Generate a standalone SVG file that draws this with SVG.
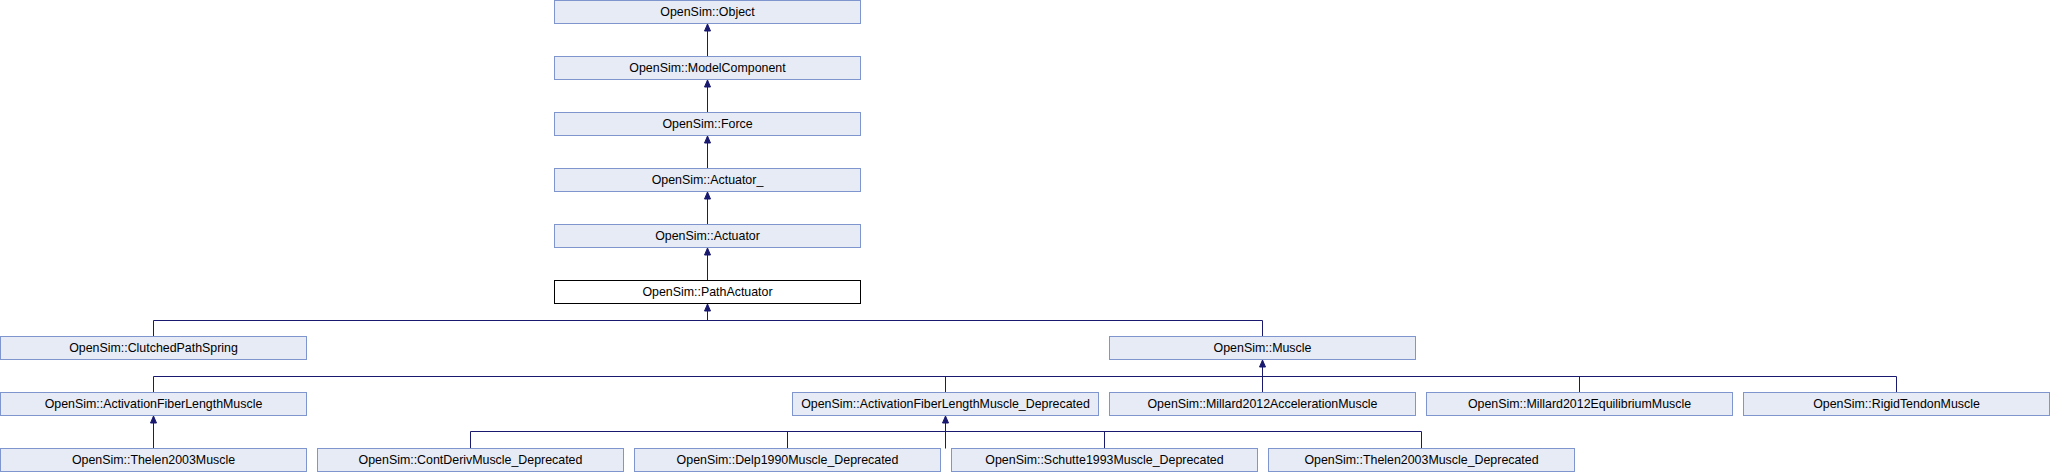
<svg xmlns="http://www.w3.org/2000/svg" width="2050" height="472" viewBox="0 0 2050 472">
<style>
.n rect{fill:#E7EBF5;stroke:#7F95CD;stroke-width:1}
.cur rect{fill:#FFFFFF;stroke:#000000;stroke-width:1}
text{font-family:"Liberation Sans",Arial,sans-serif;font-size:12.4px;fill:#000;text-anchor:middle}
#edges path{fill:none;stroke:#191970;stroke-width:1}
#edges polygon{fill:#191970;stroke:#191970;stroke-width:1}
</style>
<rect width="2050" height="472" fill="#FFFFFF"/>
<g id="edges">
<path d="M707.5,56.5V30"/><polygon points="707.5,24 704.5,31 710.5,31"/>
<path d="M707.5,112.5V86"/><polygon points="707.5,80 704.5,87 710.5,87"/>
<path d="M707.5,168.5V142"/><polygon points="707.5,136 704.5,143 710.5,143"/>
<path d="M707.5,224.5V198"/><polygon points="707.5,192 704.5,199 710.5,199"/>
<path d="M707.5,280.5V254"/><polygon points="707.5,248 704.5,255 710.5,255"/>
<path d="M153.5,336.5V320.5H1262.5V336.5"/>
<path d="M707.5,320.5V310"/><polygon points="707.5,304 704.5,311 710.5,311"/>
<path d="M153.5,392.5V376.5H1896.5V392.5"/>
<path d="M945.5,376.5V392.5"/>
<path d="M1579.5,376.5V392.5"/>
<path d="M1262.5,392.5V366"/><polygon points="1262.5,360 1259.5,367 1265.5,367"/>
<path d="M470.5,448.5V431.5H1421.5V448.5"/>
<path d="M787.5,431.5V448.5"/>
<path d="M1104.5,431.5V448.5"/>
<path d="M945.5,448.5V422"/><polygon points="945.5,416 942.5,423 948.5,423"/>
<path d="M153.5,448.5V422"/><polygon points="153.5,416 150.5,423 156.5,423"/>
</g>
<g id="obj" class="n"><rect x="554.5" y="0.5" width="306" height="23"/><text x="707.5" y="15.7">OpenSim::Object</text></g>
<g id="modelcomponent" class="n"><rect x="554.5" y="56.5" width="306" height="23"/><text x="707.5" y="71.7">OpenSim::ModelComponent</text></g>
<g id="force" class="n"><rect x="554.5" y="112.5" width="306" height="23"/><text x="707.5" y="127.7">OpenSim::Force</text></g>
<g id="actuator_" class="n"><rect x="554.5" y="168.5" width="306" height="23"/><text x="707.5" y="183.7">OpenSim::Actuator_</text></g>
<g id="actuator" class="n"><rect x="554.5" y="224.5" width="306" height="23"/><text x="707.5" y="239.7">OpenSim::Actuator</text></g>
<g id="pathactuator" class="cur"><rect x="554.5" y="280.5" width="306" height="23"/><text x="707.5" y="295.7">OpenSim::PathActuator</text></g>
<g id="clutchedpathspring" class="n"><rect x="0.5" y="336.5" width="306" height="23"/><text x="153.5" y="351.7">OpenSim::ClutchedPathSpring</text></g>
<g id="muscle" class="n"><rect x="1109.5" y="336.5" width="306" height="23"/><text x="1262.5" y="351.7">OpenSim::Muscle</text></g>
<g id="aflm" class="n"><rect x="0.5" y="392.5" width="306" height="23"/><text x="153.5" y="407.7">OpenSim::ActivationFiberLengthMuscle</text></g>
<g id="aflmd" class="n"><rect x="792.5" y="392.5" width="306" height="23"/><text x="945.5" y="407.7">OpenSim::ActivationFiberLengthMuscle_Deprecated</text></g>
<g id="m2012acc" class="n"><rect x="1109.5" y="392.5" width="306" height="23"/><text x="1262.5" y="407.7">OpenSim::Millard2012AccelerationMuscle</text></g>
<g id="m2012eq" class="n"><rect x="1426.5" y="392.5" width="306" height="23"/><text x="1579.5" y="407.7">OpenSim::Millard2012EquilibriumMuscle</text></g>
<g id="rigidtendon" class="n"><rect x="1743.5" y="392.5" width="306" height="23"/><text x="1896.5" y="407.7">OpenSim::RigidTendonMuscle</text></g>
<g id="thelen2003" class="n"><rect x="0.5" y="448.5" width="306" height="23"/><text x="153.5" y="463.7">OpenSim::Thelen2003Muscle</text></g>
<g id="contderiv" class="n"><rect x="317.5" y="448.5" width="306" height="23"/><text x="470.5" y="463.7">OpenSim::ContDerivMuscle_Deprecated</text></g>
<g id="delp1990" class="n"><rect x="634.5" y="448.5" width="306" height="23"/><text x="787.5" y="463.7">OpenSim::Delp1990Muscle_Deprecated</text></g>
<g id="schutte1993" class="n"><rect x="951.5" y="448.5" width="306" height="23"/><text x="1104.5" y="463.7">OpenSim::Schutte1993Muscle_Deprecated</text></g>
<g id="thelen2003d" class="n"><rect x="1268.5" y="448.5" width="306" height="23"/><text x="1421.5" y="463.7">OpenSim::Thelen2003Muscle_Deprecated</text></g>
</svg>
